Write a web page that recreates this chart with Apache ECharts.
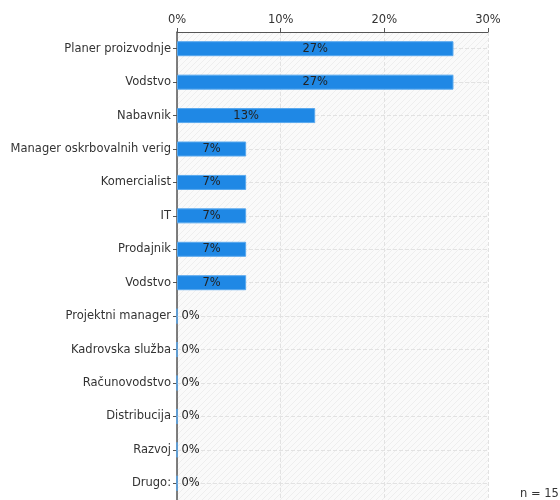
<!DOCTYPE html>
<html>
<head>
<meta charset="utf-8">
<script src="https://cdn.jsdelivr.net/npm/echarts@6/dist/echarts.min.js"></script>
<style>
  html, body { margin: 0; padding: 0; background: #fff; }
  #chart { width: 560px; height: 500px; }
</style>
</head>
<body>
<div id="chart"></div>
<script>
// categories, top to bottom
const categories = ['Planer proizvodnje', 'Vodstvo', 'Nabavnik', 'Manager oskrbovalnih verig',
  'Komercialist', 'IT', 'Prodajnik', 'Vodstvo', 'Projektni manager', 'Kadrovska služba',
  'Računovodstvo', 'Distribucija', 'Razvoj', 'Drugo:'];
// percent of respondents (n = 15)
const shares = [26.67, 26.67, 13.33, 6.67, 6.67, 6.67, 6.67, 6.67, 0, 0, 0, 0, 0, 0];
const xTicks = [0, 10, 20, 30];
const sampleSize = 15;

// faint diagonal hatch for the plot background
function hatch() {
  const c = document.createElement('canvas');
  c.width = 6; c.height = 6;
  const g = c.getContext('2d');
  g.fillStyle = '#fafafa';
  g.fillRect(0, 0, 6, 6);
  g.strokeStyle = '#eeeeee';
  g.lineWidth = 1;
  g.beginPath();
  g.moveTo(0, 6); g.lineTo(6, 0);
  g.stroke();
  return c;
}

const chart = echarts.init(document.getElementById('chart'));
const txt = '#333';
const fs = 11.5;
chart.setOption({
  animation: false,
  textStyle: { fontFamily: 'DejaVu Sans' },
  grid: {
    left: 177, top: 32, width: 311, height: 469,
    show: true,
    borderWidth: 0,
    backgroundColor: { image: hatch(), repeat: 'repeat' }
  },
  xAxis: {
    type: 'value',
    position: 'top',
    min: xTicks[0],
    max: xTicks[xTicks.length - 1],
    interval: 10,
    axisLine: { show: true, lineStyle: { color: '#555', width: 1 } },
    axisTick: { show: true, length: 4, lineStyle: { color: '#555' } },
    axisLabel: { formatter: '{value}%', color: txt, fontSize: fs, margin: 6 },
    splitLine: { show: true, lineStyle: { color: '#e2e2e2', type: 'dashed' } }
  },
  yAxis: {
    type: 'category',
    inverse: true,
    data: categories,
    axisLine: { show: true, lineStyle: { color: '#555', width: 1.5 } },
    axisTick: { show: true, length: 4, alignWithLabel: true, lineStyle: { color: '#555' } },
    axisLabel: { color: txt, fontSize: fs, margin: 6 },
    splitLine: { show: false }
  },
  series: [
    {
      // dashed guide across each category row, kept under the bars
      type: 'line',
      data: [],
      silent: true,
      z: 1,
      markLine: {
        z: 1,
        silent: true,
        symbol: 'none',
        label: { show: false },
        lineStyle: { color: '#e2e2e2', type: 'dashed', width: 1 },
        data: categories.map((c, i) => ({ yAxis: i }))
      }
    },
    {
      type: 'bar',
      barWidth: 15,
      data: shares.map(v => ({
        value: v,
        label: { position: v > 0 ? 'inside' : 'right', distance: 4 }
      })),
      itemStyle: { color: '#1f88e5', borderColor: '#58a8ee', borderWidth: 1 },
      label: {
        show: true,
        color: '#222',
        fontSize: fs,
        formatter: p => Math.round(p.value) + '%'
      },
      z: 3
    }
  ],
  graphic: [
    {
      type: 'text', left: 520, top: 488,
      style: { text: 'n = ' + sampleSize, fill: txt, fontSize: fs, fontFamily: 'DejaVu Sans' }
    }
  ]
});
</script>
</body>
</html>
